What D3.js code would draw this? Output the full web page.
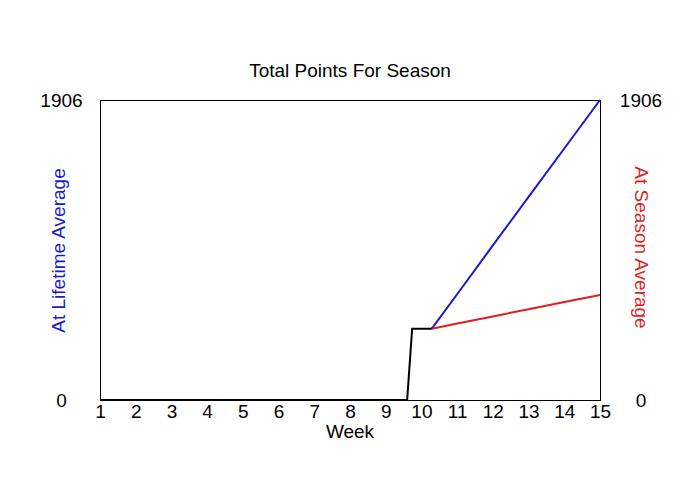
<!DOCTYPE html>
<html>
<head>
<meta charset="utf-8">
<script src="https://cdn.jsdelivr.net/npm/d3@7"></script>
<style>
  body { margin: 0; background: #fff; }
  text { font-family: "Liberation Sans", Arial, sans-serif; }
</style>
</head>
<body>
<svg id="chart" width="700" height="500"></svg>
<script>
// data
const weekTicks = [1, 2, 3, 4, 5, 6, 7, 8, 9, 10, 11, 12, 13, 14, 15];
const yTicks = [0, 1906];

const actualWeeks = [1, 9.6, 9.74, 10.29];
const actualPoints = [0, 0, 453, 453];

const projWeeks = [10.29, 11, 12, 13, 14, 15];
const lifetimePoints = [453, 672, 982, 1290, 1598, 1906];
const seasonPoints = [453, 486, 531, 577, 622, 667];

const width = 700;
const height = 500;
const margin = { left: 100, right: 100, top: 100, bottom: 100 };
const fontFamily = "'Liberation Sans', Arial, sans-serif";
const fontSize = 19;

const svg = d3.select("#chart");

const xScale = d3.scaleLinear()
    .domain([1, 15])
    .range([margin.left, width - margin.right]);

const yScale = d3.scaleLinear()
    .domain([0, 1906])
    .range([height - margin.bottom, margin.top]);

// frame
svg.append("rect")
    .attr("x", margin.left)
    .attr("y", margin.top)
    .attr("width", width - margin.left - margin.right)
    .attr("height", height - margin.top - margin.bottom)
    .attr("fill", "none")
    .attr("stroke", "#000")
    .attr("stroke-width", 1)
    .attr("shape-rendering", "crispEdges");

// x axis labels
const xAxis = d3.axisBottom(xScale)
    .tickValues(weekTicks)
    .tickSize(0)
    .tickPadding(4.5)
    .tickFormat(d3.format("d"));
const xAxisGroup = svg.append("g")
    .attr("transform", `translate(0, ${height - margin.bottom})`)
    .call(xAxis);
xAxisGroup.select(".domain").remove();
xAxisGroup.selectAll("text")
    .attr("font-size", fontSize)
    .attr("fill", "#000")
    .style("font-family", fontFamily);

// y labels both sides
const yAxisLeft = d3.axisLeft(yScale)
    .tickValues(yTicks)
    .tickSize(0)
    .tickFormat(d3.format("d"));
const yLeft = svg.append("g")
    .attr("transform", `translate(${margin.left}, 0)`)
    .call(yAxisLeft);
yLeft.select(".domain").remove();
yLeft.selectAll("text")
    .attr("text-anchor", "middle")
    .attr("x", -38.5)
    .attr("font-size", fontSize)
    .attr("fill", "#000")
    .style("font-family", fontFamily);

const yAxisRight = d3.axisRight(yScale)
    .tickValues(yTicks)
    .tickSize(0)
    .tickFormat(d3.format("d"));
const yRight = svg.append("g")
    .attr("transform", `translate(${width - margin.right}, 0)`)
    .call(yAxisRight);
yRight.select(".domain").remove();
yRight.selectAll("text")
    .attr("text-anchor", "middle")
    .attr("x", 41)
    .attr("font-size", fontSize)
    .attr("fill", "#000")
    .style("font-family", fontFamily);

// lines
const line = d3.line()
    .x(d => xScale(d[0]))
    .y(d => yScale(d[1]));

svg.append("path")
    .datum(d3.zip(projWeeks, lifetimePoints))
    .attr("d", line)
    .attr("fill", "none")
    .attr("stroke", "#1a1acc")
    .attr("stroke-width", 2);

svg.append("path")
    .datum(d3.zip(projWeeks, seasonPoints))
    .attr("d", line)
    .attr("fill", "none")
    .attr("stroke", "#e01e1e")
    .attr("stroke-width", 2);

svg.append("path")
    .datum(d3.zip(actualWeeks, actualPoints))
    .attr("d", line)
    .attr("fill", "none")
    .attr("stroke", "#000")
    .attr("stroke-width", 2);

// titles
svg.append("text")
    .attr("x", width / 2)
    .attr("y", 77)
    .attr("text-anchor", "middle")
    .attr("font-size", fontSize)
    .text("Total Points For Season");

svg.append("text")
    .attr("x", 350)
    .attr("y", 438)
    .attr("text-anchor", "middle")
    .attr("font-size", fontSize)
    .text("Week");

svg.append("text")
    .attr("transform", "translate(65, 250.5) rotate(-90)")
    .attr("text-anchor", "middle")
    .attr("font-size", fontSize)
    .attr("fill", "#1a1acc")
    .text("At Lifetime Average");

svg.append("text")
    .attr("transform", "translate(634.5, 247.5) rotate(90)")
    .attr("text-anchor", "middle")
    .attr("font-size", fontSize)
    .attr("fill", "#e01e1e")
    .text("At Season Average");
</script>
</body>
</html>
